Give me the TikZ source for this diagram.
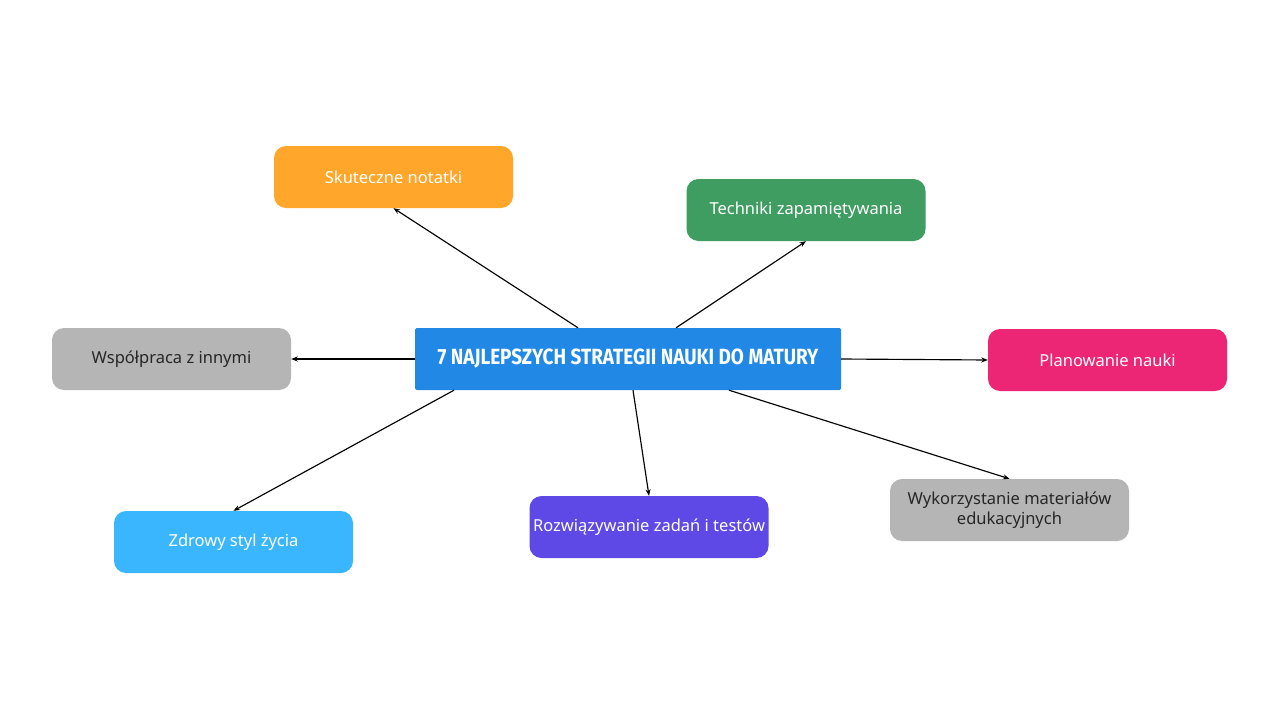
\documentclass[tikz,border=0pt]{standalone}
\usepackage{fontspec}
\setmainfont{Noto Sans}
\newfontfamily\titlefont{Fira Sans}
\usetikzlibrary{arrows.meta,calc}
\definecolor{cblue}{RGB}{33,137,229}
\definecolor{corange}{RGB}{255,166,43}
\definecolor{cgreen}{RGB}{64,157,98}
\definecolor{cpink}{RGB}{236,38,116}
\definecolor{cgray}{RGB}{181,181,181}
\definecolor{cpurple}{RGB}{94,72,230}
\definecolor{clight}{RGB}{58,182,255}
\begin{document}
\begin{tikzpicture}[x=1pt,y=-1pt,
  box/.style={rounded corners=12pt, minimum width=239pt, minimum height=62pt, inner sep=0pt, align=center, font=\fontsize{16.5}{20}\selectfont, text=white},
  darkbox/.style={box, text=black!85},
  link/.style={-{Stealth[length=6.5pt,width=5pt]}, line width=1.15pt, black}]
\useasboundingbox (0,0) rectangle (1280,720);
\fill[white] (0,0) rectangle (1280,720);
\node[fill=cblue, minimum width=426pt, minimum height=62pt, rounded corners=1.5pt, inner sep=0pt, text=white, font=\titlefont\bfseries\fontsize{22}{24}\selectfont] (c) at (628,359) {\raisebox{-2pt}{\scalebox{0.86}[1]{7 NAJLEPSZYCH STRATEGII NAUKI DO MATURY}}};
\node[box, fill=corange] (s) at (393.5,177) {Skuteczne notatki};
\node[box, fill=cgreen] (t) at (806,210) {Techniki zapamiętywania};
\node[box, fill=cpink] (p) at (1107.5,360) {Planowanie nauki};
\node[darkbox, fill=cgray] (w) at (1009.5,510) {Wykorzystanie materiałów\\edukacyjnych};
\node[box, fill=cpurple] (r) at (649,527) {Rozwiązywanie zadań i testów};
\node[box, fill=clight] (z) at (233.5,542) {Zdrowy styl życia};
\node[darkbox, fill=cgray] (ws) at (171.5,359) {Współpraca z innymi};
\draw[link] ($(c.north)+(-50,0)$) -- (s.south);
\draw[link] ($(c.north)+(48,0)$) -- (t.south);
\draw[link] (c.east) -- (p.west);
\draw[link] ($(c.south)+(101,0)$) -- (w.north);
\draw[link] ($(c.south)+(5,0)$) -- (r.north);
\draw[link] ($(c.south)+(-174,0)$) -- (z.north);
\draw[link] (c.west) -- (ws.east);
\end{tikzpicture}
\end{document}
